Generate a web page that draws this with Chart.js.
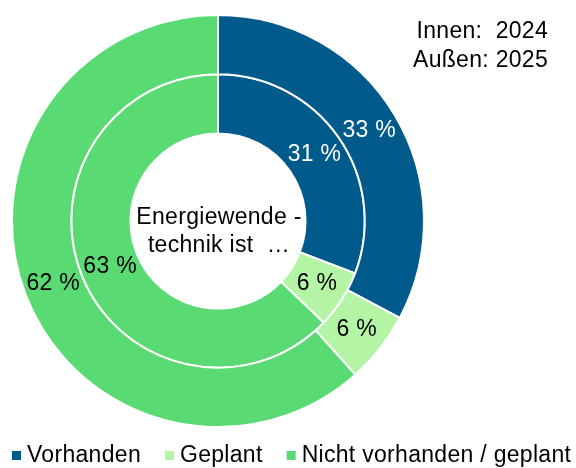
<!DOCTYPE html>
<html>
<head>
<meta charset="utf-8">
<script src="https://cdn.jsdelivr.net/npm/chart.js@4"></script>
<style>
  html, body { margin: 0; padding: 0; background: #fff; }
  #wrap { width: 576px; height: 468px; }
</style>
</head>
<body>
<div id="wrap"><canvas id="chart" width="576" height="468"></canvas></div>
<script>
const categories = ['Vorhanden', 'Geplant', 'Nicht vorhanden / geplant'];
const values2025 = [32.8, 5.6, 61.6];   // außen
const values2024 = [30.8, 6.4, 62.8];   // innen
const colors = ['#005a8c', '#b4f5a5', '#5ada73'];
const labelColors = ['#ffffff', '#000000', '#000000'];
const centerLines = ['Energiewende -', 'technik ist  \u2026'];
const yearLines = ['Innen:  2024', 'Au\u00dfen: 2025'];

const FONT = '"Liberation Sans", Arial, sans-serif';

const labelsPlugin = {
  id: 'labels',
  afterDatasetsDraw(chart) {
    const ctx = chart.ctx;
    ctx.save();
    ctx.font = '23px ' + FONT;
    ctx.letterSpacing = '0.3px';
    ctx.textAlign = 'center';
    ctx.textBaseline = 'middle';
    chart.data.datasets.forEach((ds, di) => {
      const meta = chart.getDatasetMeta(di);
      meta.data.forEach((arc, i) => {
        const p = arc.tooltipPosition();
        ctx.fillStyle = labelColors[i];
        ctx.fillText(Math.round(ds.data[i]) + ' %', p.x, p.y);
      });
    });

    // text in the hole
    const a = chart.chartArea;
    const cx = (a.left + a.right) / 2, cy = (a.top + a.bottom) / 2;
    ctx.fillStyle = '#000';
    ctx.fillText(centerLines[0], cx + 1, cy - 3);
    ctx.fillText(centerLines[1], cx + 1, cy + 25);

    // year note top right
    ctx.textAlign = 'right';
    ctx.fillText(yearLines[0], 548, 32);
    ctx.fillText(yearLines[1], 548, 61);

    // legend
    ctx.textAlign = 'left';
    let x = 12;
    categories.forEach((c, i) => {
      ctx.fillStyle = colors[i];
      ctx.fillRect(x, 451, 9, 9);
      ctx.fillStyle = '#000';
      ctx.fillText(c, x + 15, 456);
      x += 15 + ctx.measureText(c).width + 24;
    });
    ctx.restore();
  }
};

new Chart(document.getElementById('chart'), {
  type: 'doughnut',
  data: {
    labels: categories,
    datasets: [
      { label: '2025', data: values2025, backgroundColor: colors, borderColor: '#fff', borderWidth: 2 },
      { label: '2024', data: values2024, backgroundColor: colors, borderColor: '#fff', borderWidth: 2 }
    ]
  },
  options: {
    responsive: false,
    animation: false,
    cutout: '42.5%',
    layout: { padding: { left: 11, right: 151, top: 14, bottom: 40 } },
    events: [],
    plugins: {
      legend: { display: false },
      tooltip: { enabled: false }
    }
  },
  plugins: [labelsPlugin]
});
</script>
</body>
</html>
